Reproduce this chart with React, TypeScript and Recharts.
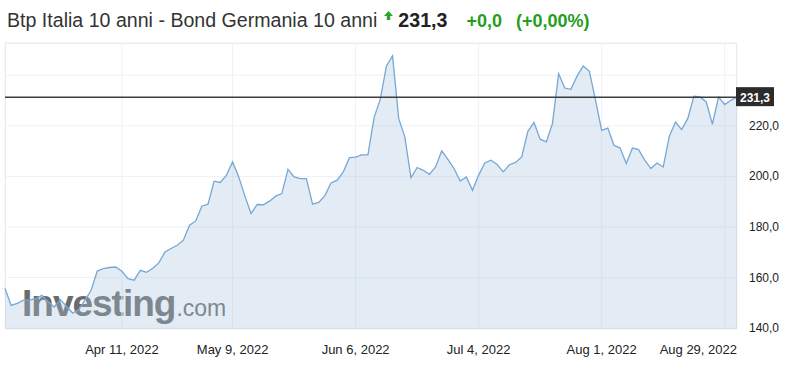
import { AreaChart, Area, XAxis, YAxis, CartesianGrid, ReferenceLine } from 'recharts';

const W = 794;
const H = 373;
const Y_AXIS_W = 57;
const PLOT_LEFT = 5;
const PLOT_TOP = 43;
const PLOT_RIGHT = W - Y_AXIS_W;
const PLOT_BOTTOM = 329;

const title = 'Btp Italia 10 anni - Bond Germania 10 anni';
const lastPrice = 231.3;
const change = '+0,0';
const changePct = '(+0,00%)';

// daily spread, trading days from mid-March to end of August 2022
const spread = [
  155.7, 149.0, 149.8, 151.1, 151.1, 151.7, 153.0, 150.5, 148.4, 151.3,
  148.7, 146.0, 147.4, 151.1, 155.0, 162.6, 163.6, 164.0, 164.2, 162.5,
  159.6, 159.0, 162.9, 162.1, 163.6, 165.8, 170.1, 171.5, 172.8, 174.8,
  180.7, 182.4, 188.2, 189.0, 198.1, 197.6, 200.5, 205.7, 199.8, 192.2,
  185.3, 188.9, 188.8, 190.2, 192.2, 193.2, 202.8, 199.8, 199.1, 199.1,
  189.0, 189.7, 192.4, 197.4, 198.5, 201.8, 207.4, 207.6, 208.5, 208.5,
  223.2, 230.4, 243.5, 247.6, 222.9, 215.6, 199.4, 203.5, 202.4, 200.8,
  203.7, 210.1, 206.7, 203.1, 198.2, 199.8, 194.5, 200.5, 205.3, 206.4,
  204.7, 201.8, 204.6, 205.5, 207.7, 217.8, 221.3, 214.7, 213.6, 220.9,
  240.6, 234.9, 234.4, 239.6, 243.6, 241.5, 230.1, 218.2, 219.1, 212.3,
  211.2, 205.1, 211.2, 210.6, 206.4, 203.1, 205.3, 203.7, 215.9, 221.5,
  218.5, 222.9, 231.7, 231.4, 229.4, 220.6, 231.4, 228.4, 230.1, 231.3,
];

const xTickIdx = [19, 37, 57, 77, 97, 117];
const xTickLabels = ['Apr 11, 2022', 'May 9, 2022', 'Jun 6, 2022', 'Jul 4, 2022', 'Aug 1, 2022', 'Aug 29, 2022'];
const yTicks = [140, 160, 180, 200, 220, 240];
const yHidden = [240];

const data = spread.map((v, i) => ({ i, v }));
const fmt = (n: number) => n.toFixed(1).replace('.', ',');

const FONT = '"Liberation Sans", Arial, sans-serif';

function XTick({ x, y, payload }: any) {
  const k = xTickIdx.indexOf(payload.value);
  const label = xTickLabels[k] ?? '';
  const isLast = k === xTickIdx.length - 1;
  return (
    <text x={isLast ? PLOT_RIGHT : x} y={y + 17} textAnchor={isLast ? 'end' : 'middle'}
          fontSize={13} fontFamily={FONT} fill="#222">{label}</text>
  );
}

function YTick({ x, y, payload }: any) {
  if (yHidden.includes(payload.value)) return <g />;
  return (
    <text x={x + 4} y={y} dy={4} textAnchor="start" fontSize={12} fontFamily={FONT} fill="#222">
      {fmt(payload.value)}
    </text>
  );
}

function PriceTag({ viewBox }: any) {
  const vx = viewBox.x + viewBox.width;
  const vy = viewBox.y;
  return (
    <g>
      <rect x={vx - 1} y={vy - 10} width={38} height={19} fill="#2b2b2b" />
      <text x={vx + 18} y={vy} dy={4.5} textAnchor="middle" fontSize={12} fontWeight="bold"
            fontFamily={FONT} fill="#fff">{fmt(lastPrice)}</text>
    </g>
  );
}

function UpArrow() {
  return (
    <svg width={9} height={10} viewBox="0 0 9 10" style={{ alignSelf: 'flex-start', marginTop: 3, marginLeft: 7, marginRight: 5 }}>
      <path d="M4.5 0 L9 5 L6.2 5 L6.2 9 L2.8 9 L2.8 5 L0 5 Z" fill="#2ba52b" />
    </svg>
  );
}

export default function App() {
  return (
    <div style={{ position: 'absolute', left: 0, top: 0, width: W, height: H, background: '#fff', overflow: 'hidden' }}>
      <div style={{ position: 'absolute', left: 7, top: 8, display: 'flex', alignItems: 'baseline',
                    fontFamily: FONT, fontSize: 19.6, lineHeight: '24px', whiteSpace: 'nowrap' }}>
        <span style={{ color: '#333' }}>{title}</span>
        <UpArrow />
        <span style={{ color: '#222', fontWeight: 'bold' }}>{fmt(lastPrice)}</span>
        <span style={{ color: '#1f9e1f', fontWeight: 'bold', fontSize: 18, marginLeft: 19 }}>{change}</span>
        <span style={{ color: '#1f9e1f', fontWeight: 'bold', fontSize: 18, marginLeft: 14 }}>{changePct}</span>
      </div>

      <div style={{ position: 'absolute', left: PLOT_LEFT, top: PLOT_TOP, width: PLOT_RIGHT - PLOT_LEFT,
                    height: PLOT_BOTTOM - PLOT_TOP, border: '1px solid #e4e7ec', boxSizing: 'border-box' }} />

      <svg width={260} height={60} style={{ position: 'absolute', left: 0, top: 270 }}>
        <text x={22} y={46} fontFamily={FONT} fill="#6b6b6b">
          <tspan fontSize={37} fontWeight="bold" letterSpacing={-1}>Investing</tspan>
          <tspan fontSize={23} dx={1}>.com</tspan>
        </text>
      </svg>

      <div style={{ position: 'absolute', left: 0, top: 0 }}>
        <AreaChart width={W} height={H} data={data}
                   margin={{ top: PLOT_TOP, right: 0, bottom: H - PLOT_BOTTOM - 30, left: PLOT_LEFT }}>
          <CartesianGrid stroke="#eef0f3" />
          <XAxis dataKey="i" type="number" domain={[0, spread.length - 1]} ticks={xTickIdx} interval={0}
                 height={30} axisLine={false} tickLine={false} tick={<XTick />} />
          <YAxis orientation="right" domain={[139.7, 252.7]} ticks={yTicks} allowDataOverflow interval={0}
                 width={Y_AXIS_W} axisLine={false} tickLine={false} tick={<YTick />} />
          <Area dataKey="v" type="linear" stroke="#76a7d6" strokeWidth={1.3} fill="#a9c5dd" fillOpacity={0.32}
                dot={false} activeDot={false} isAnimationActive={false} />
          <ReferenceLine y={lastPrice} stroke="#3c3c3c" strokeWidth={1.5} ifOverflow="visible" label={<PriceTag />} />
        </AreaChart>
      </div>
    </div>
  );
}
